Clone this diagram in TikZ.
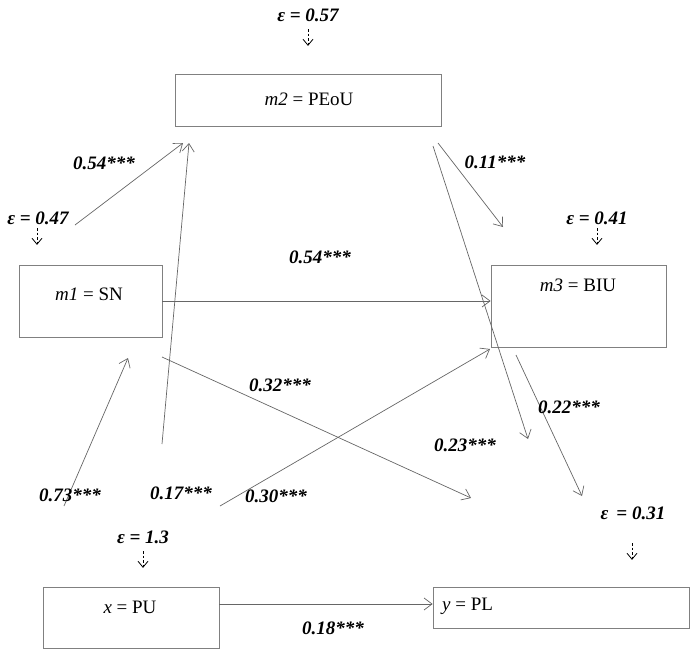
\documentclass[tikz,border=0pt]{standalone}
\usepackage{fontspec}
\setmainfont{Liberation Serif}
\usetikzlibrary{arrows.meta}
\begin{document}
\begin{tikzpicture}[x=1pt,y=-1pt,
  font=\fontsize{19}{21}\selectfont,
  boxst/.style={draw=black!50,line width=0.8pt,inner sep=0pt,minimum width=#1},
  pathst/.style={draw=black!60,line width=0.7pt,-{Straight Barb[length=8pt,width=12pt,line width=0.7pt]}},
  errst/.style={draw=black,line width=0.8pt,dash pattern=on 2.5pt off 2pt,-{Straight Barb[length=6pt,width=10pt,line width=0.8pt,sep]}},
  coef/.style={font=\fontsize{19}{21}\selectfont\bfseries\itshape,inner sep=0pt},
  txt/.style={inner sep=0pt}]
\useasboundingbox (0,0) rectangle (693,653);
% boxes
\node[boxst=266pt,minimum height=52pt] (m2) at (308,100) {};
\node[boxst=143pt,minimum height=72pt] (m1) at (90.5,301) {};
\node[boxst=175pt,minimum height=82pt] (m3) at (578.5,306) {};
\node[boxst=176pt,minimum height=61pt] (x) at (131,617.5) {};
\node[boxst=256pt,minimum height=41pt] (y) at (561,607.5) {};
% box texts
\node[txt] (tm2) at (309,99) {\textit{m2} = PEoU};
\node[txt] (tm1) at (89,294) {\textit{m1} = SN};
\node[txt] (tm3) at (578,285) {\textit{m3} = BIU};
\node[txt] (tx) at (130,607) {\textit{x} = PU};
\node[txt,anchor=west] (ty) at (442,606) {\textit{y} = PL};
% error terms
\node[coef] (e2) at (308,15) {ε = 0.57};
\node[coef] (e1) at (38,218) {ε = 0.47};
\node[coef] (e3) at (597,218) {ε = 0.41};
\node[coef] (ey) at (633,513) {ε \,= 0.31};
\node[coef] (ex) at (143,537) {ε = 1.3};
\coordinate (e2a) at (308,29); \coordinate (e2b) at (308,47);
\coordinate (e1a) at (37,228); \coordinate (e1b) at (37,246);
\coordinate (e3a) at (597,228); \coordinate (e3b) at (597,246);
\coordinate (eya) at (632,543); \coordinate (eyb) at (632,561);
\coordinate (exa) at (143,551); \coordinate (exb) at (143,569);
\draw[errst] (e2a) -- (e2b);
\draw[errst] (e1a) -- (e1b);
\draw[errst] (e3a) -- (e3b);
\draw[errst] (eya) -- (eyb);
\draw[errst] (exa) -- (exb);
% path endpoints
\coordinate (a1s) at (75,225);  \coordinate (a1e) at (183,143);
\coordinate (a2s) at (162,444); \coordinate (a2e) at (189,143);
\coordinate (a3s) at (438,143); \coordinate (a3e) at (503,227);
\coordinate (a4s) at (433,146); \coordinate (a4e) at (528,439);
\coordinate (a6s) at (162,357); \coordinate (a6e) at (471,498);
\coordinate (a7s) at (64,506);  \coordinate (a7e) at (128,358);
\coordinate (a8s) at (220,506); \coordinate (a8e) at (490,349);
\coordinate (a9s) at (516,355); \coordinate (a9e) at (582,496);
\draw[pathst] (a1s) -- (a1e);
\draw[pathst] (a2s) -- (a2e);
\draw[pathst] (a3s) -- (a3e);
\draw[pathst] (a4s) -- (a4e);
\draw[pathst] (m1.east) -- (m3.west |- m1.east);
\draw[pathst] (a6s) -- (a6e);
\draw[pathst] (a7s) -- (a7e);
\draw[pathst] (a8s) -- (a8e);
\draw[pathst] (a9s) -- (a9e);
\draw[pathst] (x.east |- 0,604) -- (y.west |- 0,604);
% coefficients
\node[coef] (c1) at (104,163) {0.54***};
\node[coef] (c2) at (181,493) {0.17***};
\node[coef] (c3) at (495,162) {0.11***};
\node[coef] (c4) at (465,445) {0.23***};
\node[coef] (c5) at (320,257) {0.54***};
\node[coef] (c6) at (280,385) {0.32***};
\node[coef] (c7) at (70,495) {0.73***};
\node[coef] (c8) at (276,496) {0.30***};
\node[coef] (c9) at (569,407) {0.22***};
\node[coef] (c10) at (333,628) {0.18***};
\end{tikzpicture}
\end{document}
